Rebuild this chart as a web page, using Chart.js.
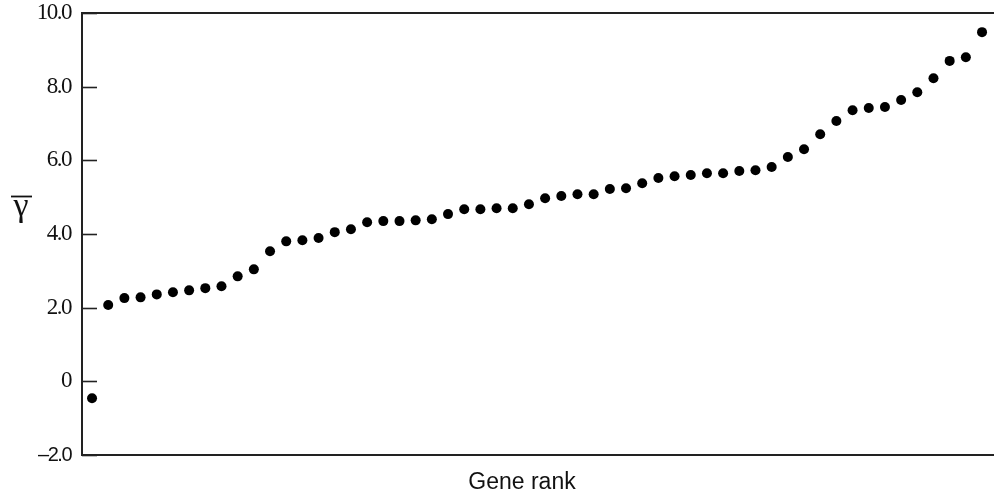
<!DOCTYPE html>
<html>
<head>
<meta charset="utf-8">
<script src="https://cdn.jsdelivr.net/npm/chart.js@4/dist/chart.umd.min.js"></script>
<style>
  html, body { margin: 0; padding: 0; background: #fff; overflow: hidden; }
  canvas { display: block; }
</style>
</head>
<body>
<canvas id="c" width="995" height="496"></canvas>
<script>
// Gene ranks (1 = lowest mean gamma)
const geneRanks = [];
for (let i = 1; i <= 56; i++) geneRanks.push(i);

// Mean gamma per gene, in rank order
const gammaMeans = [
  -0.46, 2.07, 2.26, 2.28, 2.36, 2.42, 2.47, 2.53, 2.58, 2.85,
   3.04, 3.53, 3.80, 3.83, 3.89, 4.05, 4.13, 4.32, 4.35, 4.35,
   4.37, 4.40, 4.54, 4.67, 4.67, 4.70, 4.70, 4.81, 4.97, 5.03,
   5.08, 5.08, 5.22, 5.24, 5.38, 5.52, 5.57, 5.60, 5.65, 5.65,
   5.71, 5.73, 5.82, 6.09, 6.30, 6.71, 7.07, 7.36, 7.42, 7.45,
   7.64, 7.85, 8.23, 8.70, 8.80, 9.48
];

// Y axis tick values and their printed labels
const yTickValues = [-2, 0, 2, 4, 6, 8, 10];
const yTickLabels = ['\u20132.0', '0', '2.0', '4.0', '6.0', '8.0', '10.0'];

const INK = '#111';

// Tight letter spacing for the serif tick numerals
const spacingPlugin = {
  id: 'tightText',
  beforeDraw(chart) { chart.ctx.letterSpacing = '-1.5px'; },
  afterDraw(chart) { chart.ctx.letterSpacing = '0px'; }
};

// Frame (top, left, bottom), inward tick marks and axis titles
const framePlugin = {
  id: 'frame',
  afterDraw(chart) {
    const { ctx, chartArea: a, scales } = chart;
    ctx.save();
    ctx.letterSpacing = '0px';
    ctx.strokeStyle = '#222';
    ctx.lineWidth = 2;
    ctx.beginPath();
    ctx.moveTo(a.right, a.top);
    ctx.lineTo(a.left, a.top);
    ctx.lineTo(a.left, a.bottom);
    ctx.lineTo(a.right, a.bottom);
    ctx.stroke();

    // short ticks pointing into the plot
    ctx.lineWidth = 1.6;
    yTickValues.forEach(v => {
      const y = Math.round(scales.y.getPixelForValue(v)) + 0.5;
      ctx.beginPath();
      ctx.moveTo(a.left, y);
      ctx.lineTo(a.left + 15, y);
      ctx.stroke();
    });

    // y title: gamma with an overbar
    ctx.fillStyle = INK;
    ctx.font = '34px "Liberation Serif", serif';
    ctx.textAlign = 'center';
    ctx.textBaseline = 'alphabetic';
    const gx = 21, gy = 216;
    ctx.fillText('\u03B3', gx, gy);
    ctx.lineWidth = 1.8;
    ctx.strokeStyle = INK;
    ctx.beginPath();
    ctx.moveTo(11, 196.5);
    ctx.lineTo(32, 196.5);
    ctx.stroke();

    // x title
    ctx.font = '23px "Liberation Sans", Arial, sans-serif';
    ctx.fillText('Gene rank', 522, 489);
    ctx.restore();
  }
};

new Chart(document.getElementById('c'), {
  type: 'scatter',
  data: {
    datasets: [{
      data: geneRanks.map((r, i) => ({ x: r, y: gammaMeans[i] })),
      backgroundColor: '#000',
      borderColor: '#000',
      borderWidth: 0,
      pointRadius: 5,
      pointHoverRadius: 5,
      clip: false
    }]
  },
  options: {
    responsive: false,
    devicePixelRatio: 1,
    animation: false,
    layout: { autoPadding: false, padding: { top: 13, right: 1, left: 0, bottom: 0 } },
    plugins: { legend: { display: false }, tooltip: { enabled: false } },
    scales: {
      x: {
        type: 'linear',
        min: 0.38,
        max: 56.74,
        grid: { display: false },
        border: { display: false },
        ticks: { display: false },
        afterFit(scale) {
          scale.height = 41;
          scale.paddingLeft = 0;
          scale.paddingRight = 0;
        }
      },
      y: {
        type: 'linear',
        min: -2,
        max: 10,
        grid: { display: false, drawTicks: false },
        border: { display: false },
        afterBuildTicks(scale) {
          scale.ticks = yTickValues.map(v => ({ value: v }));
        },
        ticks: {
          padding: 11,
          color: INK,
          font: (ctx) => (ctx.tick && ctx.tick.value === -2)
            ? { family: '"Liberation Sans", Arial, sans-serif', size: 20 }
            : { family: '"Liberation Serif", serif', size: 23 },
          callback: (v) => yTickLabels[yTickValues.indexOf(v)]
        },
        afterFit(scale) {
          scale.width = 82;
          scale.paddingTop = 0;
          scale.paddingBottom = 0;
        }
      }
    }
  },
  plugins: [spacingPlugin, framePlugin]
});
</script>
</body>
</html>
